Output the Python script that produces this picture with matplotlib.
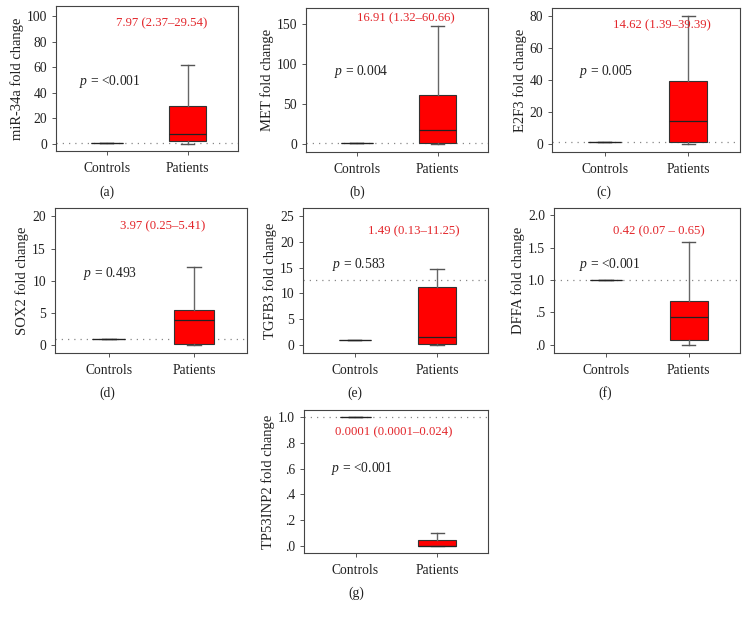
import matplotlib
matplotlib.use("Agg")
import matplotlib.pyplot as plt

plt.rcParams['font.family'] = ['Liberation Serif', 'DejaVu Serif']
plt.rcParams['mathtext.fontset'] = 'custom'
plt.rcParams['mathtext.rm'] = 'Liberation Serif'
plt.rcParams['mathtext.it'] = 'Liberation Serif:italic'

W, H = 748, 621

groups = ["Controls", "Patients"]
genes = ["miR-34a", "MET", "E2F3", "SOX2", "TGFB3", "DFFA", "TP53INP2"]
captions = ["(a)", "(b)", "(c)", "(d)", "(e)", "(f)", "(g)"]
p_texts = ["<0.001", "0.004", "0.005", "0.493", "0.583", "<0.001", "<0.001"]
red_texts = ["7.97 (2.37\u201329.54)", "16.91 (1.32\u201360.66)", "14.62 (1.39\u201339.39)",
             "3.97 (0.25\u20135.41)", "1.49 (0.13\u201311.25)", "0.42 (0.07 \u2013 0.65)",
             "0.0001 (0.0001\u20130.024)"]

control_value = [1, 1, 1, 1, 1, 1, 1]
pat_whislo = [0.0, 0.0, 0.0, 0.0, 0.0, 0.0, 0.0]
pat_q1 = [2.37, 1.32, 1.39, 0.25, 0.13, 0.07, 0.0]
pat_med = [7.97, 16.91, 14.62, 3.97, 1.49, 0.42, 0.0001]
pat_q3 = [29.54, 60.66, 39.39, 5.41, 11.25, 0.68, 0.045]
pat_whishi = [61.5, 147, 80, 12.2, 14.8, 1.59, 0.097]
ref_line = [1, 1, 1, 1, 12.6, 1, 1]

yticks = [[0, 20, 40, 60, 80, 100], [0, 50, 100, 150], [0, 20, 40, 60, 80],
          [0, 5, 10, 15, 20], [0, 5, 10, 15, 20, 25], [0, 0.5, 1.0, 1.5, 2.0],
          [0, 0.2, 0.4, 0.6, 0.8, 1.0]]
yticklabels = [["0", "20", "40", "60", "80", "100"], ["0", "50", "100", "150"],
               ["0", "20", "40", "60", "80"], ["0", "5", "10", "15", "20"],
               ["0", "5", "10", "15", "20", "25"], [".0", ".5", "1.0", "1.5", "2.0"],
               [".0", ".2", ".4", ".6", ".8", "1.0"]]
ylims = [(-5.4, 107.7), (-10, 170), (-5, 84.8), (-1.2, 21.3), (-1.56, 26.6),
         (-0.13, 2.115), (-0.057, 1.057)]

# axes boxes in pixels: left, right, top, bottom
boxes = [(56, 238, 6, 151), (306, 488, 8, 152), (552, 740, 8, 152),
         (55, 247, 208, 353), (303, 488, 208, 353), (554, 740, 208, 353),
         (304, 488, 410, 553)]
p_pos = [(0.126, 0.48), (0.154, 0.556), (0.144, 0.556), (0.146, 0.55),
         (0.157, 0.61), (0.134, 0.607), (0.147, 0.594)]
red_pos = [(0.58, 0.88), (0.55, 0.93), (0.585, 0.88), (0.56, 0.876),
           (0.60, 0.84), (0.565, 0.84), (0.49, 0.846)]
cap_pos = [(107, 192), (357, 192), (604, 192), (107, 393), (355, 393),
           (605, 393), (356, 593)]

RED = "#e3262b"
fig = plt.figure(figsize=(W / 100, H / 100), dpi=100)

for i in range(7):
    l, r, t, b = boxes[i]
    ax = fig.add_axes([l / W, 1 - b / H, (r - l) / W, (b - t) / H])
    stats = [
        dict(med=control_value[i], q1=control_value[i], q3=control_value[i],
             whislo=control_value[i], whishi=control_value[i], fliers=[], label=groups[0]),
        dict(med=pat_med[i], q1=pat_q1[i], q3=pat_q3[i],
             whislo=pat_whislo[i], whishi=pat_whishi[i], fliers=[], label=groups[1]),
    ]
    ax.axhline(ref_line[i], color="#888888", lw=0.9, ls=(0, (1, 4)), zorder=1)
    ax.bxp(stats, positions=[1, 2], widths=[0.39, 0.46], patch_artist=True,
           showfliers=False, capwidths=[0.16, 0.16],
           boxprops=dict(facecolor="#ff0000", edgecolor="#333333", linewidth=0.8),
           medianprops=dict(color="#222222", linewidth=0.9),
           whiskerprops=dict(color="#666666", linewidth=1.0),
           capprops=dict(color="#555555", linewidth=1.0))
    ax.set_xlim(0.37, 2.62)
    ax.set_ylim(*ylims[i])
    ax.set_yticks(yticks[i])
    ax.set_yticklabels(yticklabels[i])
    ax.set_xticks([1, 2])
    ax.set_xticklabels(groups)
    ax.tick_params(axis="both", labelsize=9.8, length=3, width=0.7, color="#555555",
                   labelcolor="#222222")
    ax.tick_params(axis="x", pad=5)
    for s in ax.spines.values():
        s.set_color("#444444")
        s.set_linewidth(0.8)
    ax.set_ylabel(genes[i] + " fold change", fontsize=10.5, color="#222222", labelpad=2)
    ax.text(p_pos[i][0], p_pos[i][1], "$p$ = " + p_texts[i], transform=ax.transAxes,
            fontsize=9.8, ha="left", va="center", color="#222222")
    ax.text(red_pos[i][0], red_pos[i][1], red_texts[i], transform=ax.transAxes,
            fontsize=9.2, ha="center", va="center", color=RED)
    fig.text(cap_pos[i][0] / W, 1 - cap_pos[i][1] / H, captions[i], fontsize=9.8,
             ha="center", va="center", color="#222222")

fig.savefig("out.png", dpi=100)
